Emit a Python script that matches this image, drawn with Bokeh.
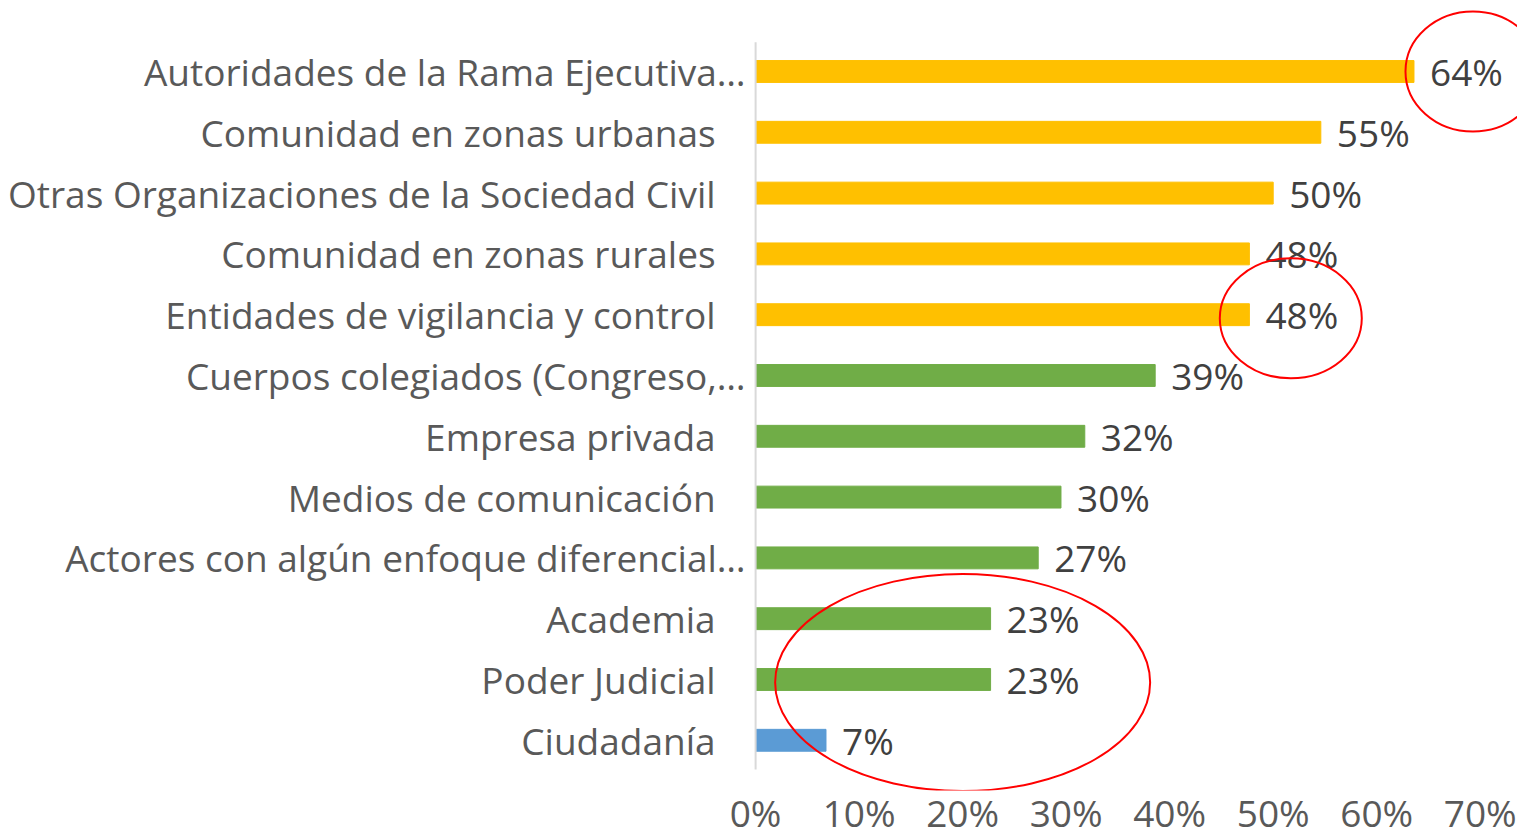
from bokeh.plotting import figure
from bokeh.models import Range1d, FixedTicker, PrintfTickFormatter, ColumnDataSource
from bokeh.core.properties import value
from bokeh.embed import file_html
from bokeh.resources import INLINE

categories = [
    "Autoridades de la Rama Ejecutiva…",
    "Comunidad en zonas urbanas",
    "Otras Organizaciones de la Sociedad Civil",
    "Comunidad en zonas rurales",
    "Entidades de vigilancia y control",
    "Cuerpos colegiados (Congreso,…",
    "Empresa privada",
    "Medios de comunicación",
    "Actores con algún enfoque diferencial…",
    "Academia",
    "Poder Judicial",
    "Ciudadanía",
]
values = [63.6, 54.6, 50.0, 47.7, 47.7, 38.6, 31.8, 29.5, 27.3, 22.7, 22.7, 6.8]
groups = ["alto"] * 5 + ["medio"] * 6 + ["bajo"]
group_colors = {"alto": "#FFC000", "medio": "#70AD47", "bajo": "#5B9BD5"}
x_ticks = [0, 10, 20, 30, 40, 50, 60, 70]

FONT = "Open Sans"
FS = "37px"

n = len(categories)
ys = list(range(n))
src = ColumnDataSource(dict(
    y=ys,
    cat=categories,
    val=values,
    lab=[f"{int(v + 0.5)}%" for v in values],
    color=[group_colors[g] for g in groups],
    cat_off=[-10 if c.endswith("…") else -40 for c in categories],
))

FRAME_H = 782
ROW_PX = 60.8
y_top = -1.036
y_bot = y_top + FRAME_H / ROW_PX

p = figure(frame_width=1509, frame_height=FRAME_H, output_backend="svg", toolbar_location=None,
           x_range=Range1d(-72.17, 73.6), y_range=Range1d(y_bot, y_top),
           min_border_left=8, min_border_right=0, min_border_top=8, min_border_bottom=0)
p.outline_line_color = None
p.xgrid.visible = False
p.ygrid.visible = False
p.yaxis.visible = False

p.xaxis.ticker = FixedTicker(ticks=x_ticks)
p.xaxis.formatter = PrintfTickFormatter(format="%d%%")
p.xaxis.axis_line_color = None
p.xaxis.major_tick_line_color = None
p.xaxis.minor_tick_line_color = None
p.xaxis.major_tick_out = 0
p.xaxis.major_tick_in = 0
p.xaxis.minor_tick_out = 0
p.xaxis.major_label_text_font = FONT
p.xaxis.major_label_text_font_size = FS
p.xaxis.major_label_text_color = "#595959"
p.xaxis.major_label_standoff = -4

p.hbar(y="y", left=0, right="val", height=0.36, color="color", source=src)
p.segment(x0=0, x1=0, y0=-0.48, y1=n - 1 + 0.48, line_color="#D9D9D9", line_width=2)

p.text(x=0, y="y", text="cat", x_offset="cat_off", text_align="right", text_baseline="middle",
       text_font=value(FONT), text_font_size=FS, text_color="#595959", source=src)
p.text(x="val", y="y", text="lab", x_offset=16, text_align="left", text_baseline="middle",
       text_font=value(FONT), text_font_size=FS, text_color="#404040", source=src)

# red highlight ellipses (annotation)
ell_x = [69.3, 51.7, 20.0]
ell_y = [0.0, 4.06, 10.05]
ell_w = [135, 142, 375]
ell_h = [120, 120, 217]
p.ellipse(x=ell_x, y=ell_y, width=ell_w, height=ell_h, width_units="screen", height_units="screen",
          fill_color=None, line_color="#FF0000", line_width=2)

open("out.html", "w").write(file_html(p, INLINE))
